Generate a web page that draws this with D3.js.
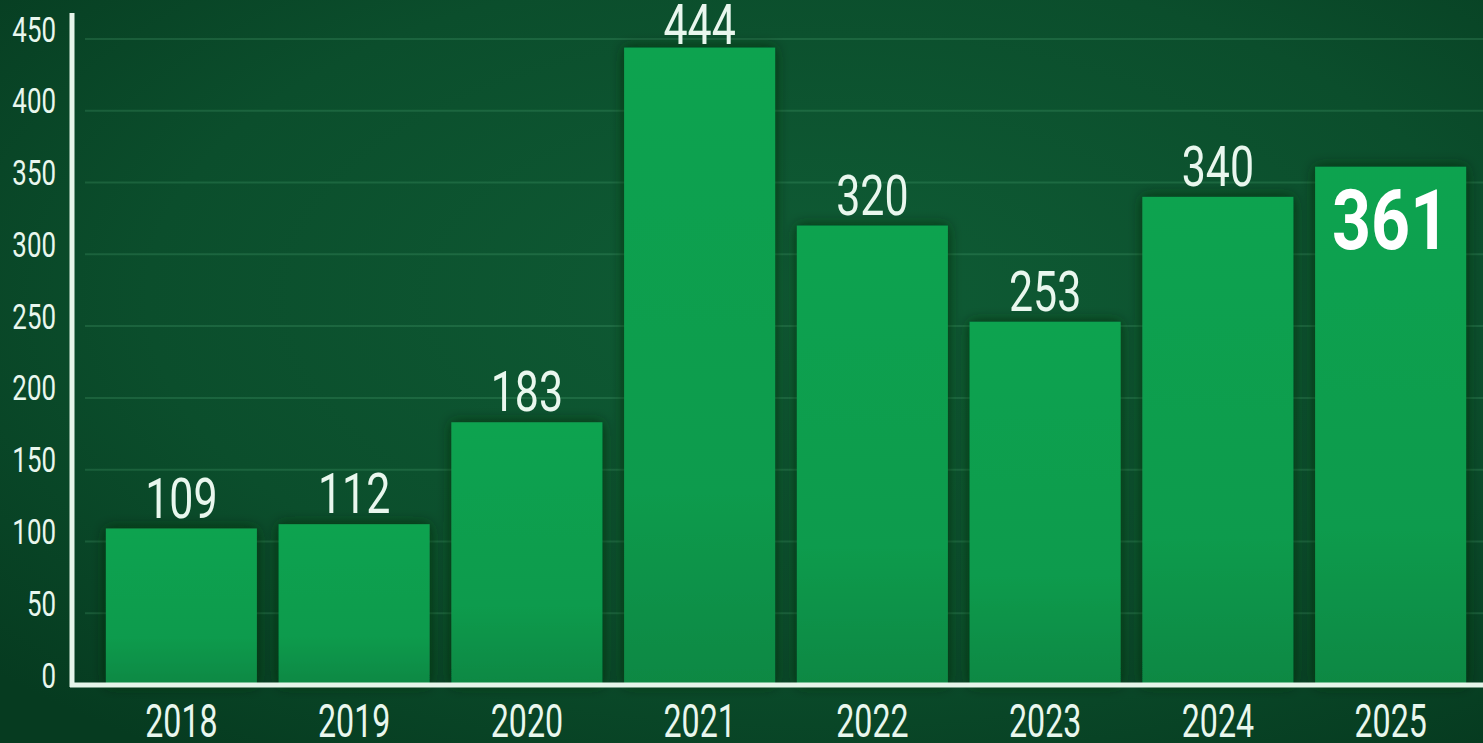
<!DOCTYPE html>
<html>
<head>
<meta charset="utf-8">
<script src="https://cdn.jsdelivr.net/npm/d3@7"></script>
<style>
  html, body { margin: 0; padding: 0; background: #0b4d2c; overflow: hidden; }
  svg { display: block; }
  text { font-family: "Roboto", "Liberation Sans", sans-serif; fill: #e9f7ee; }
</style>
</head>
<body>
<svg id="chart" width="1483" height="743"></svg>
<script>
// ---- data ----
const years = ["2018", "2019", "2020", "2021", "2022", "2023", "2024", "2025"];
const counts = [109, 112, 183, 444, 320, 253, 340, 361];
const yTicks = [0, 50, 100, 150, 200, 250, 300, 350, 400, 450];
const highlightYear = "2025";

const W = 1483, H = 743;
const svg = d3.select("#chart");
const defs = svg.append("defs");

// background vignette
const bg = defs.append("radialGradient").attr("id", "bg")
  .attr("cx", "55%").attr("cy", "40%").attr("r", "75%");
bg.append("stop").attr("offset", "0%").attr("stop-color", "#0f5c35");
bg.append("stop").attr("offset", "60%").attr("stop-color", "#0b4e2c");
bg.append("stop").attr("offset", "100%").attr("stop-color", "#063b20");

const barGrad = defs.append("linearGradient").attr("id", "barGrad")
  .attr("x1", 0).attr("y1", 0).attr("x2", 0).attr("y2", 1);
barGrad.append("stop").attr("offset", "0%").attr("stop-color", "#10a350");
barGrad.append("stop").attr("offset", "70%").attr("stop-color", "#0e9b4d");
barGrad.append("stop").attr("offset", "100%").attr("stop-color", "#0a8843");

const shadow = defs.append("filter").attr("id", "shadow")
  .attr("x", "-20%").attr("y", "-20%").attr("width", "140%").attr("height", "140%");
shadow.append("feDropShadow").attr("dx", 0).attr("dy", 0).attr("stdDeviation", 7)
  .attr("flood-color", "#022a15").attr("flood-opacity", 0.75);

svg.append("rect").attr("width", W).attr("height", H).attr("fill", "url(#bg)");

// scales
const x = d3.scaleBand().domain(years).range([95, 1477]).paddingInner(0.126).paddingOuter(0.063);
const y = d3.scaleLinear().domain([0, 450]).range([685, 39]);

// gridlines
svg.append("g")
  .selectAll("line").data(yTicks.filter(d => d > 0)).join("line")
  .attr("x1", 85).attr("x2", W)
  .attr("y1", d => y(d)).attr("y2", d => y(d))
  .attr("stroke", "#5fbf85").attr("stroke-opacity", 0.2).attr("stroke-width", 2);

// bars
svg.append("g").attr("filter", "url(#shadow)")
  .selectAll("rect").data(years).join("rect")
  .attr("x", d => x(d))
  .attr("width", x.bandwidth())
  .attr("y", (d, i) => y(counts[i]))
  .attr("height", (d, i) => y(0) - y(counts[i]))
  .attr("fill", "url(#barGrad)");

// value labels
years.forEach((yr, i) => {
  const cx = x(yr) + x.bandwidth() / 2;
  if (yr === highlightYear) {
    svg.append("text")
      .attr("transform", `translate(${cx},${y(counts[i]) + 82}) scale(0.81,1)`)
      .attr("text-anchor", "middle")
      .attr("font-size", 84).attr("font-weight", "bold")
      .style("fill", "#ffffff")
      .text(counts[i]);
  } else {
    const by = Math.max(y(counts[i]) - 11, 44);
    svg.append("text")
      .attr("transform", `translate(${cx},${by}) scale(0.78,1)`)
      .attr("text-anchor", "middle")
      .attr("font-size", 55)
      .text(counts[i]);
  }
});

// y axis
const yAxis = d3.axisLeft(y).tickValues(yTicks).tickSize(0).tickPadding(0);
const gy = svg.append("g").attr("transform", "translate(72,0)").call(yAxis);
gy.select(".domain").remove();
gy.selectAll(".tick text").remove();
gy.selectAll(".tick").append("text")
  .attr("transform", "translate(-16,2) scale(0.74,1)")
  .attr("text-anchor", "end")
  .attr("font-size", 35)
  .text(d => d);

// x axis labels
const xAxis = d3.axisBottom(x).tickSize(0);
const gx = svg.append("g").attr("transform", `translate(0,${y(0)})`).call(xAxis);
gx.select(".domain").remove();
gx.selectAll(".tick text").remove();
gx.selectAll(".tick").append("text")
  .attr("transform", "translate(0,52) scale(0.7,1)")
  .attr("text-anchor", "middle")
  .attr("font-size", 46)
  .text(d => d);

// axis lines
svg.append("line").attr("x1", 72).attr("x2", 72).attr("y1", 13).attr("y2", y(0) + 2)
  .attr("stroke", "#e6f5ea").attr("stroke-width", 5);
svg.append("line").attr("x1", 70).attr("x2", W).attr("y1", y(0)).attr("y2", y(0))
  .attr("stroke", "#e6f5ea").attr("stroke-width", 5);
</script>
</body>
</html>
